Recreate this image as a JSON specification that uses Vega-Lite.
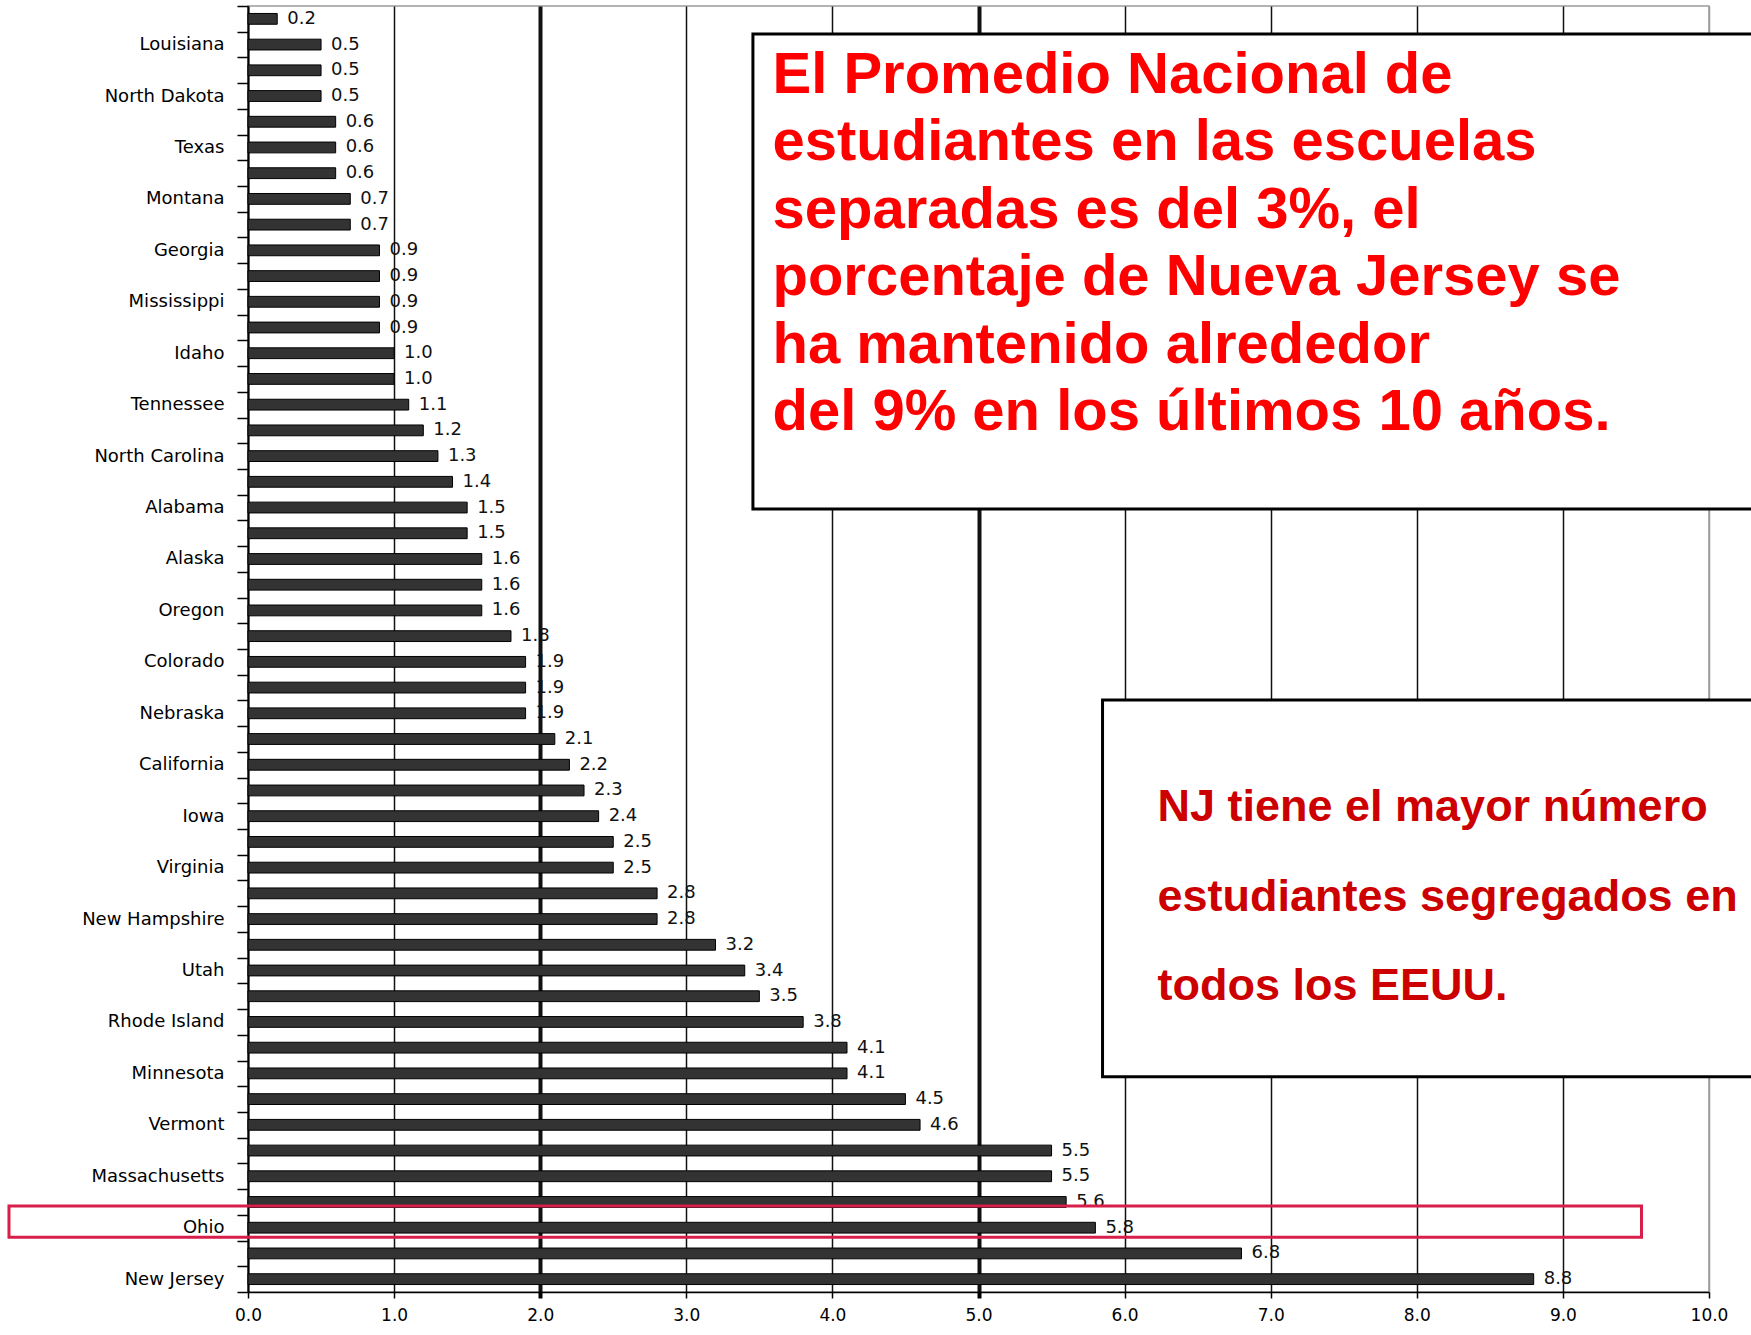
{
  "$schema": "https://vega.github.io/schema/vega-lite/v6.json",
  "width": 1461,
  "height": 1286,
  "autosize": {"type": "none"},
  "padding": {"left": 248, "top": 6, "right": 42, "bottom": 43},
  "background": "white",
  "config": {
    "view": {"stroke": "#9a9a9a", "strokeWidth": 1.5},
    "font": "DejaVu Sans"
  },
  "layer": [
    {
      "data": {
        "values": [
          {"state": "_01", "pct": 0.2},
          {"state": "Louisiana", "pct": 0.5},
          {"state": "_03", "pct": 0.5},
          {"state": "North Dakota", "pct": 0.5},
          {"state": "_05", "pct": 0.6},
          {"state": "Texas", "pct": 0.6},
          {"state": "_07", "pct": 0.6},
          {"state": "Montana", "pct": 0.7},
          {"state": "_09", "pct": 0.7},
          {"state": "Georgia", "pct": 0.9},
          {"state": "_11", "pct": 0.9},
          {"state": "Mississippi", "pct": 0.9},
          {"state": "_13", "pct": 0.9},
          {"state": "Idaho", "pct": 1.0},
          {"state": "_15", "pct": 1.0},
          {"state": "Tennessee", "pct": 1.1},
          {"state": "_17", "pct": 1.2},
          {"state": "North Carolina", "pct": 1.3},
          {"state": "_19", "pct": 1.4},
          {"state": "Alabama", "pct": 1.5},
          {"state": "_21", "pct": 1.5},
          {"state": "Alaska", "pct": 1.6},
          {"state": "_23", "pct": 1.6},
          {"state": "Oregon", "pct": 1.6},
          {"state": "_25", "pct": 1.8},
          {"state": "Colorado", "pct": 1.9},
          {"state": "_27", "pct": 1.9},
          {"state": "Nebraska", "pct": 1.9},
          {"state": "_29", "pct": 2.1},
          {"state": "California", "pct": 2.2},
          {"state": "_31", "pct": 2.3},
          {"state": "Iowa", "pct": 2.4},
          {"state": "_33", "pct": 2.5},
          {"state": "Virginia", "pct": 2.5},
          {"state": "_35", "pct": 2.8},
          {"state": "New Hampshire", "pct": 2.8},
          {"state": "_37", "pct": 3.2},
          {"state": "Utah", "pct": 3.4},
          {"state": "_39", "pct": 3.5},
          {"state": "Rhode Island", "pct": 3.8},
          {"state": "_41", "pct": 4.1},
          {"state": "Minnesota", "pct": 4.1},
          {"state": "_43", "pct": 4.5},
          {"state": "Vermont", "pct": 4.6},
          {"state": "_45", "pct": 5.5},
          {"state": "Massachusetts", "pct": 5.5},
          {"state": "_47", "pct": 5.6},
          {"state": "Ohio", "pct": 5.8},
          {"state": "_49", "pct": 6.8},
          {"state": "New Jersey", "pct": 8.8}
        ]
      },
      "layer": [
        {
          "mark": {"type": "bar", "height": {"band": 0.42}, "color": "#333333", "stroke": "#000000", "strokeWidth": 1},
          "encoding": {
            "y": {
              "field": "state",
              "type": "nominal",
              "sort": null,
              "scale": {"paddingInner": 0, "paddingOuter": 0},
              "axis": {
                "title": null,
                "labelExpr": "slice(datum.label, 0, 1) == '_' ? '' : datum.label",
                "labelFontSize": 18,
                "labelColor": "#000000",
                "labelPadding": 13,
                "tickSize": 11,
                "tickColor": "#000000",
                "tickWidth": 1.5,
                "tickBand": "extent",
                "domainColor": "#000000",
                "domainWidth": 2,
                "grid": false
              }
            },
            "x": {
              "field": "pct",
              "type": "quantitative",
              "scale": {"domain": [0, 10], "nice": false},
              "axis": {
                "title": null,
                "values": [0, 1, 2, 3, 4, 5, 6, 7, 8, 9, 10],
                "format": ".1f",
                "labelFontSize": 17,
                "labelColor": "#000000",
                "labelFlush": false,
                "labelPadding": 9,
                "tickSize": 6,
                "tickColor": "#000000",
                "tickWidth": {"condition": {"test": "datum.value === 2 || datum.value === 5", "value": 4}, "value": 1.5},
                "domainColor": "#000000",
                "domainWidth": 1.5,
                "grid": true,
                "gridColor": {"condition": {"test": "datum.value === 10", "value": "#9a9a9a"}, "value": "#111111"},
                "gridWidth": {"condition": {"test": "datum.value === 2 || datum.value === 5", "value": 4}, "value": 1.5},
                "gridOpacity": 1
              }
            }
          }
        },
        {
          "mark": {"type": "text", "align": "left", "baseline": "middle", "dx": 10, "fontSize": 18, "color": "#111111"},
          "encoding": {
            "y": {"field": "state", "type": "nominal", "sort": null},
            "x": {"field": "pct", "type": "quantitative", "scale": {"domain": [0, 10], "nice": false}},
            "text": {"field": "pct", "type": "quantitative", "format": ".1f"}
          }
        }
      ]
    },
    {
      "data": {
        "values": [
          {
            "note1": "El Promedio Nacional de\nestudiantes en las escuelas\nseparadas es del 3%, el\nporcentaje de Nueva Jersey se\nha mantenido alrededor\ndel 9% en los últimos 10 años.",
            "note2": "NJ tiene el mayor número\nestudiantes segregados en\ntodos los EEUU."
          }
        ]
      },
      "layer": [
        {
          "mark": {"type": "rect", "fill": "white", "stroke": "#000000", "strokeWidth": 3},
          "encoding": {
            "x": {"datum": 3.456, "type": "quantitative", "scale": {"domain": [0, 10], "nice": false}, "title": null},
            "x2": {"datum": 10.5},
            "y": {"datum": 1.09, "type": "quantitative", "scale": {"domain": [0, 50], "reverse": true, "nice": false, "zero": false}, "axis": null},
            "y2": {"datum": 19.56}
          }
        },
        {
          "mark": {"type": "rect", "fill": "white", "stroke": "#000000", "strokeWidth": 3},
          "encoding": {
            "x": {"datum": 5.849, "type": "quantitative", "scale": {"domain": [0, 10], "nice": false}, "title": null},
            "x2": {"datum": 10.5},
            "y": {"datum": 26.98, "type": "quantitative", "scale": {"domain": [0, 50], "reverse": true, "nice": false, "zero": false}, "axis": null},
            "y2": {"datum": 41.63}
          }
        },
        {
          "mark": {"type": "text", "align": "left", "baseline": "top", "lineBreak": "\n", "lineHeight": 67.5, "font": "Liberation Sans", "fontWeight": "bold", "fontSize": 58, "color": "#FF0000"},
          "encoding": {
            "x": {"datum": 3.59, "type": "quantitative", "scale": {"domain": [0, 10], "nice": false}, "title": null},
            "y": {"datum": 1.59, "type": "quantitative", "scale": {"domain": [0, 50], "reverse": true, "nice": false, "zero": false}, "axis": null},
            "text": {"field": "note1"}
          }
        },
        {
          "mark": {"type": "text", "align": "left", "baseline": "top", "lineBreak": "\n", "lineHeight": 89.7, "font": "Liberation Sans", "fontWeight": "bold", "fontSize": 45, "color": "#CC0000"},
          "encoding": {
            "x": {"datum": 6.225, "type": "quantitative", "scale": {"domain": [0, 10], "nice": false}, "title": null},
            "y": {"datum": 30.29, "type": "quantitative", "scale": {"domain": [0, 50], "reverse": true, "nice": false, "zero": false}, "axis": null},
            "text": {"field": "note2"}
          }
        },
        {
          "mark": {"type": "rect", "fill": null, "fillOpacity": 0, "stroke": "#D81E4A", "strokeWidth": 3},
          "encoding": {
            "x": {"datum": -1.636, "type": "quantitative", "scale": {"domain": [0, 10], "nice": false}, "title": null},
            "x2": {"datum": 9.538},
            "y": {"datum": 46.66, "type": "quantitative", "scale": {"domain": [0, 50], "reverse": true, "nice": false, "zero": false}, "axis": null},
            "y2": {"datum": 47.87}
          }
        }
      ]
    }
  ],
  "resolve": {"scale": {"y": "independent"}, "axis": {"y": "independent"}}
}
